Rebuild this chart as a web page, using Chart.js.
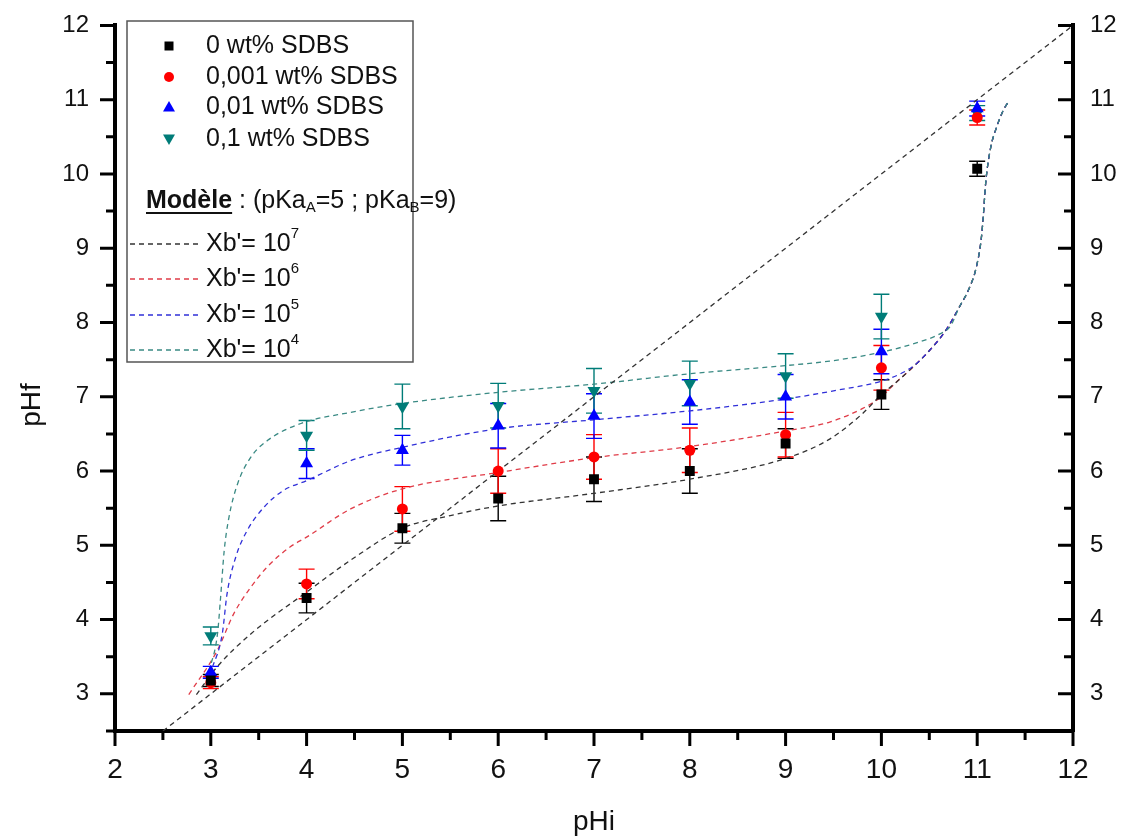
<!DOCTYPE html>
<html>
<head>
<meta charset="utf-8">
<script src="https://cdn.jsdelivr.net/npm/chart.js@4/dist/chart.umd.min.js"></script>
<style>
  body { margin: 0; background: #fff; }
  #wrap { width: 1126px; height: 839px; }
</style>
</head>
<body>
<div id="wrap"><canvas id="myChart" width="1126" height="839"></canvas></div>
<script>
// measured points
let pHi = [3, 4, 5, 6, 7, 8, 9, 10, 11];
let pHf0 = [3.18, 4.29, 5.23, 5.63, 5.89, 6.0, 6.37, 7.03, 10.07];
let err0 = [0.08, 0.2, 0.2, 0.3, 0.3, 0.3, 0.2, 0.2, 0.1];
let pHf001 = [3.15, 4.48, 5.49, 6.0, 6.19, 6.28, 6.49, 7.39, 10.76];
let err001 = [0.08, 0.2, 0.3, 0.3, 0.3, 0.3, 0.3, 0.3, 0.1];
let pHf01 = [3.29, 6.1, 6.28, 6.61, 6.74, 6.93, 7.0, 7.61, 10.88];
let err01 = [0.08, 0.2, 0.2, 0.3, 0.3, 0.3, 0.3, 0.3, 0.1];
let pHf1 = [3.78, 6.48, 6.87, 6.88, 7.08, 7.18, 7.28, 8.08, 10.82];
let err1 = [0.12, 0.2, 0.3, 0.3, 0.3, 0.3, 0.3, 0.3, 0.1];

// model curves
let tailX = [10.15, 10.33, 10.5, 10.67, 10.81, 10.92, 10.99, 11.04, 11.06, 11.09, 11.14, 11.2, 11.27, 11.33];
let tailY = [7.19, 7.40, 7.62, 7.89, 8.2, 8.47, 8.74, 9.1, 9.37, 9.9, 10.35, 10.62, 10.85, 10.98];

let m7X = [2.85, 3.07, 3.42, 4, 4.46, 5, 5.5, 6, 7, 8, 9, 9.46, 9.8, 10].concat(tailX);
let m7Y = [2.99, 3.37, 3.81, 4.37, 4.8, 5.23, 5.4, 5.53, 5.7, 5.89, 6.17, 6.43, 6.77, 7.03].concat(tailY);
let m6X = [2.77, 3.07, 3.24, 3.42, 3.59, 3.83, 4, 4.46, 5, 6, 7, 8, 9, 9.46, 9.8, 10].concat(tailX);
let m6Y = [2.99, 3.59, 4.08, 4.44, 4.71, 4.98, 5.11, 5.49, 5.76, 5.98, 6.18, 6.33, 6.54, 6.66, 6.84, 7.0].concat(tailY);
let m5X = [2.98, 3.02, 3.12, 3.17, 3.26, 3.38, 3.56, 3.76, 4, 4.46, 5, 6, 7, 8, 9, 9.5, 10, 10.2, 10.35, 10.5, 10.67, 10.81, 10.92, 10.99, 11.04, 11.06, 11.09, 11.14, 11.2, 11.27, 11.33];
let m5Y = [3.25, 3.37, 3.81, 4.35, 4.84, 5.2, 5.52, 5.74, 5.87, 6.14, 6.32, 6.57, 6.69, 6.81, 6.97, 7.08, 7.21, 7.31, 7.43, 7.62, 7.89, 8.2, 8.47, 8.74, 9.1, 9.37, 9.9, 10.35, 10.62, 10.85, 10.98];
let m4X = [2.98, 3.07, 3.1, 3.14, 3.19, 3.28, 3.42, 3.59, 3.94, 4.46, 5, 6, 7, 8, 9, 9.46, 10, 10.4, 10.6, 10.72, 10.81, 10.92, 10.99, 11.04, 11.06, 11.09, 11.14, 11.2, 11.27, 11.33];
let m4Y = [3.3, 3.81, 4.26, 4.93, 5.38, 5.83, 6.19, 6.41, 6.64, 6.79, 6.91, 7.06, 7.17, 7.31, 7.42, 7.48, 7.6, 7.74, 7.84, 7.95, 8.2, 8.47, 8.74, 9.1, 9.37, 9.9, 10.35, 10.62, 10.85, 10.98];
let diagX = [2.5, 12];
let diagY = [2.5, 12];

let labels = ['0 wt% SDBS', '0,001 wt% SDBS', '0,01 wt% SDBS', '0,1 wt% SDBS'];
let markColors = ['#000000', '#ff0000', '#0000ff', '#007c78'];
let lineColors = ['#333333', '#e03c48', '#3030d8', '#3a8a84'];
let xTicks = [2, 3, 4, 5, 6, 7, 8, 9, 10, 11, 12];
let yTicks = [3, 4, 5, 6, 7, 8, 9, 10, 11, 12];

function pts(xs, ys) {
  return xs.map((x, i) => ({ x: x, y: ys[i] }));
}

function modelLine(xs, ys, color) {
  return {
    type: 'line',
    data: pts(xs, ys),
    borderColor: color,
    borderWidth: 1.3,
    borderDash: [5, 4],
    pointRadius: 0,
    fill: false,
    cubicInterpolationMode: 'monotone',
    order: 2
  };
}

function marks(ys, errs, color, style, radius, rotation) {
  return {
    type: 'scatter',
    data: pts(pHi, ys),
    errors: errs,
    backgroundColor: color,
    borderColor: color,
    borderWidth: 0,
    pointStyle: style,
    pointRadius: radius,
    pointRotation: rotation,
    order: 0
  };
}

const fam = '"Liberation Sans", Arial, sans-serif';
const narrow = '"Liberation Sans Narrow", "Arial Narrow", "Liberation Sans", sans-serif';
const tickFont = { family: fam, size: 24 };
const xTickFont = { family: narrow, size: 28 };
const titleFont = { family: fam, size: 28 };

const extras = {
  id: 'extras',
  beforeDatasetsDraw(chart) {
    const ctx = chart.ctx;
    const xs = chart.scales.x, ys = chart.scales.y;
    ctx.save();
    ctx.lineWidth = 1.4;
    chart.data.datasets.forEach(ds => {
      if (!ds.errors) return;
      ctx.strokeStyle = ds.borderColor;
      ds.data.forEach((p, j) => {
        const px = xs.getPixelForValue(p.x);
        const top = ys.getPixelForValue(p.y + ds.errors[j]);
        const bot = ys.getPixelForValue(p.y - ds.errors[j]);
        ctx.beginPath();
        ctx.moveTo(px, top); ctx.lineTo(px, bot);
        ctx.moveTo(px - 8, top); ctx.lineTo(px + 8, top);
        ctx.moveTo(px - 8, bot); ctx.lineTo(px + 8, bot);
        ctx.stroke();
      });
    });
    ctx.restore();
  },
  afterDraw(chart) {
    const ctx = chart.ctx;
    const a = chart.chartArea;
    const xs = chart.scales.x, ys = chart.scales.y;
    ctx.save();
    ctx.strokeStyle = '#000';
    ctx.lineWidth = 3;
    ctx.beginPath();
    for (let v = 2; v <= 12; v += 0.5) {
      const p = xs.getPixelForValue(v);
      const len = v % 1 === 0 ? 15 : 9;
      ctx.moveTo(p, a.bottom); ctx.lineTo(p, a.bottom + len);
    }
    for (let v = 2.5; v <= 12; v += 0.5) {
      const p = ys.getPixelForValue(v);
      const len = v % 1 === 0 ? 15 : 9;
      ctx.moveTo(a.left, p); ctx.lineTo(a.left - len, p);
      ctx.moveTo(a.right, p); ctx.lineTo(a.right - len, p);
    }
    ctx.stroke();

    // y axis title
    ctx.save();
    ctx.translate(32, 405);
    ctx.rotate(-Math.PI / 2);
    ctx.fillStyle = '#111';
    ctx.font = '28px ' + fam;
    ctx.textAlign = 'center';
    ctx.textBaseline = 'middle';
    ctx.fillText('pHf', 0, 0);
    ctx.restore();

    drawLegend(ctx);
    ctx.restore();
  }
};

function runs(ctx, x, y, parts) {
  parts.forEach(p => {
    ctx.font = p.font;
    ctx.fillText(p.t, x, y + (p.dy || 0));
    x += ctx.measureText(p.t).width;
  });
  return x;
}

function drawLegend(ctx) {
  const f = '25px ' + fam;
  const fs = '15px ' + fam;
  ctx.fillStyle = '#fff';
  ctx.fillRect(127, 21, 286, 341);
  ctx.strokeStyle = '#555';
  ctx.lineWidth = 1.5;
  ctx.strokeRect(127, 21, 286, 341);

  ctx.textBaseline = 'middle';
  ctx.textAlign = 'left';
  const rowY = [46, 77, 107, 139];
  const mx = 169;
  labels.forEach((t, i) => {
    const y = rowY[i];
    ctx.fillStyle = markColors[i];
    ctx.beginPath();
    if (i === 0) ctx.rect(mx - 4.5, y - 4.5, 9, 9);
    if (i === 1) ctx.arc(mx, y, 5, 0, Math.PI * 2);
    if (i === 2) { ctx.moveTo(mx, y - 6); ctx.lineTo(mx + 6, y + 4.5); ctx.lineTo(mx - 6, y + 4.5); }
    if (i === 3) { ctx.moveTo(mx, y + 6); ctx.lineTo(mx + 6, y - 4.5); ctx.lineTo(mx - 6, y - 4.5); }
    ctx.fill();
    ctx.fillStyle = '#111';
    ctx.font = f;
    ctx.fillText(t, 206, y);
  });

  // model header
  const hy = 201;
  ctx.fillStyle = '#111';
  ctx.font = 'bold 25px ' + fam;
  ctx.fillText('Modèle', 146, hy);
  const w = ctx.measureText('Modèle').width;
  ctx.fillRect(146, hy + 11, w, 2);
  runs(ctx, 146 + w, hy, [
    { t: ' : (pKa', font: f },
    { t: 'A', font: fs, dy: 7 },
    { t: '=5 ; pKa', font: f },
    { t: 'B', font: fs, dy: 7 },
    { t: '=9)', font: f }
  ]);

  const exps = ['7', '6', '5', '4'];
  const ly = [244, 279, 315, 350];
  exps.forEach((e, i) => {
    const y = ly[i];
    ctx.strokeStyle = lineColors[i];
    ctx.lineWidth = 1.3;
    ctx.setLineDash([5, 4]);
    ctx.beginPath();
    ctx.moveTo(130, y); ctx.lineTo(199, y);
    ctx.stroke();
    ctx.setLineDash([]);
    ctx.fillStyle = '#111';
    runs(ctx, 206, y, [
      { t: "Xb'= 10", font: f },
      { t: e, font: fs, dy: -10 }
    ]);
  });
}

let mychart = document.getElementById('myChart');

let chart = new Chart(mychart, {
  data: {
    datasets: [
      marks(pHf0, err0, markColors[0], 'rect', 7, 0),
      marks(pHf001, err001, markColors[1], 'circle', 5.5, 0),
      marks(pHf01, err01, markColors[2], 'triangle', 7.5, 0),
      marks(pHf1, err1, markColors[3], 'triangle', 7.5, 180),
      modelLine(diagX, diagY, lineColors[0]),
      modelLine(m4X, m4Y, lineColors[3]),
      modelLine(m5X, m5Y, lineColors[2]),
      modelLine(m7X, m7Y, lineColors[0]),
      modelLine(m6X, m6Y, lineColors[1])
    ]
  },
  options: {
    responsive: false,
    animation: false,
    layout: { padding: { top: 24 } },
    plugins: {
      legend: { display: false },
      tooltip: { enabled: false }
    },
    scales: {
      x: {
        type: 'linear',
        min: 2,
        max: 12,
        afterBuildTicks: s => { s.ticks = xTicks.map(v => ({ value: v })); },
        afterFit: s => { s.height = 108; },
        grid: { display: false, drawTicks: true, tickLength: 15 },
        border: { display: true, color: '#000', width: 4 },
        ticks: { font: xTickFont, color: '#111', padding: 7, maxRotation: 0 },
        title: { display: true, text: 'pHi', font: titleFont, color: '#111', padding: { top: 0, bottom: 0 } }
      },
      y: {
        type: 'linear',
        position: 'left',
        min: 2.5,
        max: 12,
        afterBuildTicks: s => { s.ticks = yTicks.map(v => ({ value: v })); },
        afterFit: s => { s.width = 115; },
        grid: { display: false, drawTicks: true, tickLength: 15 },
        border: { display: true, color: '#000', width: 4 },
        ticks: { font: tickFont, color: '#111', padding: 11 }
      },
      y2: {
        type: 'linear',
        position: 'right',
        min: 2.5,
        max: 12,
        afterBuildTicks: s => { s.ticks = yTicks.map(v => ({ value: v })); },
        afterFit: s => { s.width = 53; },
        grid: { display: false, drawTicks: true, tickLength: 10 },
        border: { display: true, color: '#000', width: 4 },
        ticks: { font: tickFont, color: '#111', padding: 7 }
      }
    }
  },
  plugins: [extras]
});
</script>
</body>
</html>
